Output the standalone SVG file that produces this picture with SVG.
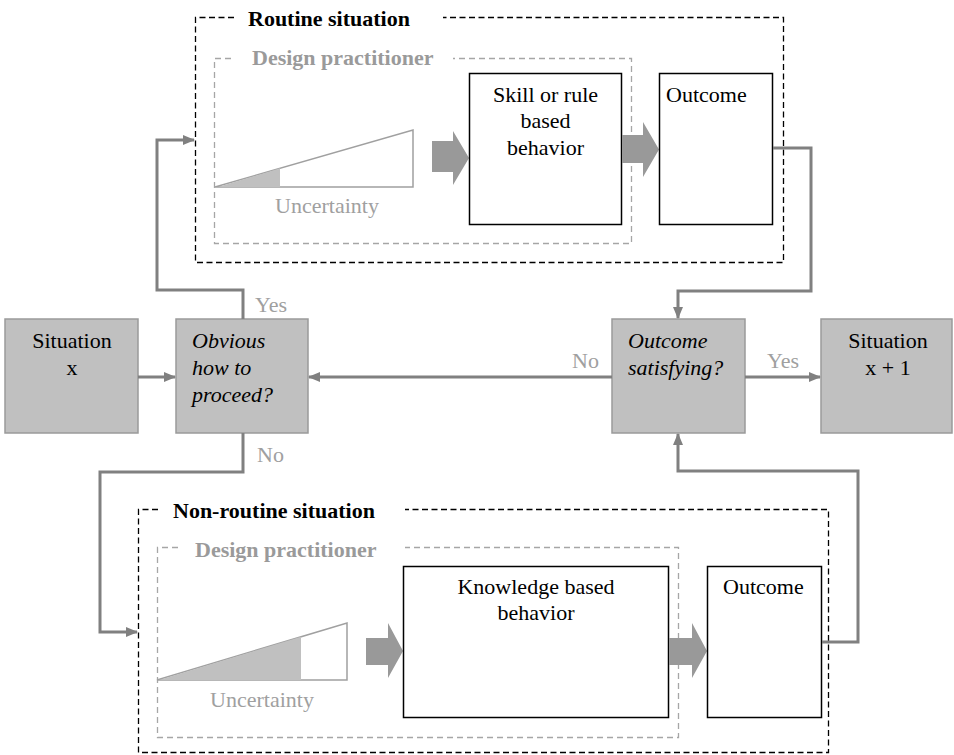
<svg xmlns="http://www.w3.org/2000/svg" width="954" height="755" viewBox="0 0 954 755">
<style>
.outer{fill:none;stroke:#000;stroke-width:1.3;stroke-dasharray:6 3.5}
.inner{fill:none;stroke:#a6a6a6;stroke-width:1.3;stroke-dasharray:6 4}
.wbox{fill:#fff;stroke:#000;stroke-width:1.5}
.gbox{fill:#c0c0c0;stroke:#9a9a9a;stroke-width:1.5}
.conn{fill:none;stroke:#808080;stroke-width:3}
.block{fill:#999}
.tri{fill:#fff;stroke:#a0a0a0;stroke-width:1.5}
.trif{fill:#c0c0c0}
</style>
<defs>
<marker id="ah" markerUnits="userSpaceOnUse" markerWidth="12" markerHeight="12" viewBox="0 0 12 12" refX="11" refY="6" orient="auto">
<path d="M0,1 L12,6 L0,11 Z" fill="#808080"/>
</marker>
</defs>

<g id="routine">
<path class="outer" d="M234,17.5 H195.5 V262.5 H783.5 V17.5 H443"/>
<text font-family="Liberation Serif, serif" font-size="22" font-weight="bold" fill="#000" x="248" y="26">Routine situation</text>
</g>
<g id="routine-practitioner">
<path class="inner" d="M231,58.5 H214.5 V243.5 H631.5 V58.5 H453"/>
<text font-family="Liberation Serif, serif" font-size="22" font-weight="bold" fill="#9a9a9a" x="252" y="65">Design practitioner</text>
<polygon class="tri" points="215,187 413,130 413,187"/>
<polygon class="trif" points="218,187 280,187 280,168.3"/>
<text font-family="Liberation Serif, serif" font-size="22" fill="#a0a0a0" x="327" y="213" text-anchor="middle">Uncertainty</text>
</g>
<g id="arrow-r1"><polygon class="block" points="432,141 453,141 453,131 469,158 453,185 453,172 432,172"/></g>
<g id="skill">
<rect class="wbox" x="469.5" y="73.5" width="152" height="151"/>
<text font-family="Liberation Serif, serif" font-size="22" text-anchor="middle" x="545.5" y="102">Skill or rule</text>
<text font-family="Liberation Serif, serif" font-size="22" text-anchor="middle" x="545.5" y="128">based</text>
<text font-family="Liberation Serif, serif" font-size="22" text-anchor="middle" x="545.5" y="155">behavior</text>
</g>
<g id="arrow-r2"><polygon class="block" points="622,135 643,135 643,122 659,149.5 643,177 643,163 622,163"/></g>
<g id="outcome-top">
<rect class="wbox" x="659.5" y="73.5" width="113" height="151"/>
<text font-family="Liberation Serif, serif" font-size="22" x="666" y="102">Outcome</text>
</g>

<g id="situation-x">
<rect class="gbox" x="5" y="319" width="133" height="114"/>
<text font-family="Liberation Serif, serif" font-size="22" text-anchor="middle" x="72" y="348">Situation</text>
<text font-family="Liberation Serif, serif" font-size="22" text-anchor="middle" x="72" y="375">x</text>
</g>
<g id="obvious">
<rect class="gbox" x="176" y="319" width="132" height="114"/>
<text font-family="Liberation Serif, serif" font-size="22" font-style="italic" x="192" y="348">Obvious</text>
<text font-family="Liberation Serif, serif" font-size="22" font-style="italic" x="192" y="375">how to</text>
<text font-family="Liberation Serif, serif" font-size="22" font-style="italic" x="192" y="402">proceed?</text>
</g>
<g id="satisfying">
<rect class="gbox" x="612" y="319" width="133" height="114"/>
<text font-family="Liberation Serif, serif" font-size="22" font-style="italic" x="628" y="348">Outcome</text>
<text font-family="Liberation Serif, serif" font-size="22" font-style="italic" x="628" y="375">satisfying?</text>
</g>
<g id="situation-x1">
<rect class="gbox" x="821" y="319" width="131" height="114"/>
<text font-family="Liberation Serif, serif" font-size="22" text-anchor="middle" x="888" y="348">Situation</text>
<text font-family="Liberation Serif, serif" font-size="22" text-anchor="middle" x="888" y="375">x + 1</text>
</g>

<g id="nonroutine">
<path class="outer" d="M158,509.5 H138.5 V752.5 H828.5 V509.5 H405"/>
<text font-family="Liberation Serif, serif" font-size="22" font-weight="bold" fill="#000" x="173" y="518">Non-routine situation</text>
</g>
<g id="nonroutine-practitioner">
<path class="inner" d="M178,547.5 H157.5 V737.5 H678.5 V547.5 H405"/>
<text font-family="Liberation Serif, serif" font-size="22" font-weight="bold" fill="#9a9a9a" x="195" y="557">Design practitioner</text>
<polygon class="tri" points="157,680 347,623 347,680"/>
<polygon class="trif" points="159,680 301,680 301,636.8"/>
<text font-family="Liberation Serif, serif" font-size="22" fill="#a0a0a0" x="262" y="707" text-anchor="middle">Uncertainty</text>
</g>
<g id="arrow-n1"><polygon class="block" points="366,638 388,638 388,623 403,651 388,678 388,665 366,665"/></g>
<g id="knowledge">
<rect class="wbox" x="403.5" y="566.5" width="265" height="151"/>
<text font-family="Liberation Serif, serif" font-size="22" text-anchor="middle" x="536" y="594">Knowledge based</text>
<text font-family="Liberation Serif, serif" font-size="22" text-anchor="middle" x="536" y="620">behavior</text>
</g>
<g id="arrow-n2"><polygon class="block" points="669,638 692,638 692,623 707,651 692,678 692,665 669,665"/></g>
<g id="outcome-bottom">
<rect class="wbox" x="707.5" y="566.5" width="114" height="151"/>
<text font-family="Liberation Serif, serif" font-size="22" x="723" y="594">Outcome</text>
</g>

<g id="connectors">
<path class="conn" d="M138,377 H175" marker-end="url(#ah)"/>
<path class="conn" d="M243,319 V290 H157 V140 H194" marker-end="url(#ah)"/>
<path class="conn" d="M243,433 V472 H100 V632 H137" marker-end="url(#ah)"/>
<path class="conn" d="M773,148 H811 V291 H678 V318" marker-end="url(#ah)"/>
<path class="conn" d="M612,377 H309" marker-end="url(#ah)"/>
<path class="conn" d="M745,377 H820" marker-end="url(#ah)"/>
<path class="conn" d="M822,642 H858 V471 H678 V434" marker-end="url(#ah)"/>
<text font-family="Liberation Serif, serif" font-size="22" fill="#a0a0a0" x="255" y="312">Yes</text>
<text font-family="Liberation Serif, serif" font-size="22" fill="#a0a0a0" x="257" y="462">No</text>
<text font-family="Liberation Serif, serif" font-size="22" fill="#a0a0a0" x="572" y="368">No</text>
<text font-family="Liberation Serif, serif" font-size="22" fill="#a0a0a0" x="767" y="368">Yes</text>
</g>
</svg>
